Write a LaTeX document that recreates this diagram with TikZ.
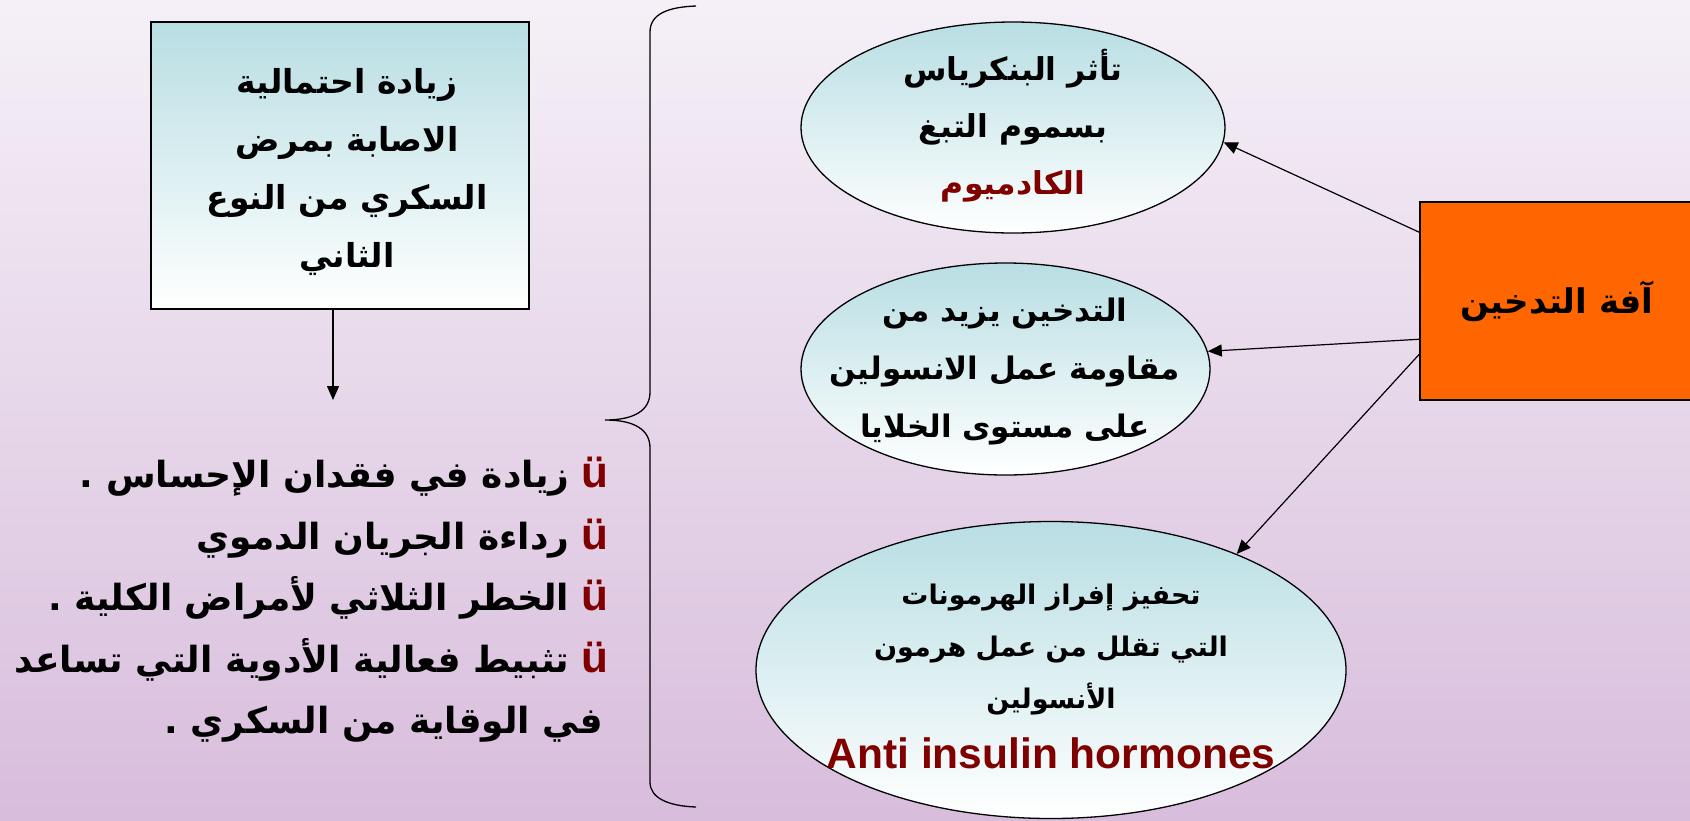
\documentclass[tikz,border=0pt]{standalone}
\usepackage{fontspec}
\setmainfont{Liberation Sans}
\newfontfamily\ar[Script=Arabic]{DejaVu Sans}
\TeXXeTstate=1
\usetikzlibrary{shapes.geometric,arrows.meta}
\definecolor{bgtop}{HTML}{F5F0F7}
\definecolor{bgbot}{HTML}{D8BDDC}
\definecolor{tealtop}{HTML}{B8DEE3}
\definecolor{dred}{HTML}{800000}
\definecolor{orng}{HTML}{FF6600}
\newcommand{\bul}{\textcolor{dred}{\normalfont\bfseries\fontsize{44}{61.5}\selectfont ü}}
\tikzset{
  bubble/.style={ellipse, draw=black, line width=1.3pt, top color=tealtop, bottom color=white, inner sep=0pt},
  tbox/.style={rectangle, draw=black, line width=1.5pt, top color=tealtop, bottom color=white, inner sep=0pt},
  artext/.style={align=center, inner sep=0pt, text=black},
  conn/.style={line width=1.2pt, -{Triangle[length=14pt,width=12pt]}},
}
\begin{document}
\begin{tikzpicture}[x=1pt,y=-1pt]
\useasboundingbox (0,0) rectangle (1690,820);
\fill[top color=bgtop, bottom color=bgbot] (0,0) rectangle (1690,820);

% left box
\node[tbox, minimum width=378pt, minimum height=287pt] (lb) at (340,165.5) {};
\node[artext, font=\ar\bfseries\fontsize{33}{58}\selectfont] (lbt) at (347,172)
  {\beginR زيادة احتمالية\endR\\\beginR الاصابة بمرض\endR\\\beginR السكري من النوع\endR\\\beginR الثاني\endR};
\coordinate (lbend) at (333,400);
\draw[conn] ([xshift=-7pt]lb.south) -- (lbend);

% bullet list
\node[anchor=east, align=right, inner sep=0pt, font=\ar\bfseries\fontsize{36}{61.5}\selectfont] (list) at (609,600)
  {\beginR زيادة في فقدان الإحساس .\endR\ \bul\\
   \beginR رداءة الجريان الدموي\endR\ \bul\\
   \beginR الخطر الثلاثي لأمراض الكلية .\endR\ \bul\\
   \beginR تثبيط فعالية الأدوية التي تساعد\endR\ \bul\\
   \beginR في الوقاية من السكري .\endR\hspace*{6pt}};

% brace
\coordinate (bt) at (696,6);
\coordinate (bm) at (605,420);
\coordinate (bb) at (696,807);
\draw[line width=1.3pt] (bt) .. controls (668,7) and (650,14) .. (650,32) -- (650,392)
  .. controls (650,410) and (635,420) .. (bm)
  .. controls (635,420) and (650,430) .. (650,448) -- (650,782)
  .. controls (650,798) and (668,806) .. (bb);

% ellipses
\node[bubble, minimum width=424pt, minimum height=211pt] (e1) at (1013,127.5) {};
\node[artext, font=\ar\bfseries\fontsize{31.5}{57}\selectfont] (e1t) at (1013,126)
  {\beginR تأثر البنكرياس\endR\\\beginR بسموم التبغ\endR\\\textcolor{dred}{\beginR الكادميوم\endR}};

\node[bubble, minimum width=409pt, minimum height=212pt] (e2) at (1005.5,369) {};
\node[artext, font=\ar\bfseries\fontsize{31}{58}\selectfont] (e2t) at (1005,371)
  {\beginR التدخين يزيد من\endR\\\beginR مقاومة عمل الانسولين\endR\\\beginR على مستوى الخلايا\endR};

\node[bubble, minimum width=590pt, minimum height=297pt] (e3) at (1051,670) {};
\node[artext, font=\ar\bfseries\fontsize{27}{52}\selectfont] (e3t) at (1051,650)
  {\beginR تحفيز إفراز الهرمونات\endR\\\beginR التي تقلل من عمل هرمون\endR\\\beginR الأنسولين\endR};
\node[artext, font=\normalfont\bfseries\fontsize{42.5}{46}\selectfont, text=dred] (e3e) at (1051,753)
  {Anti insulin hormones};

% orange box
\node[rectangle, draw=black, line width=1.5pt, fill=orng, minimum width=274pt, minimum height=198pt,
  font=\ar\bfseries\fontsize{34}{40}\selectfont] (ob) at (1557,301) {\beginR آفة التدخين\endR};

% connectors
\draw[conn] ([yshift=-31pt]ob.north west) -- (e1.-4);
\draw[conn] ([yshift=-138pt]ob.north west) -- (e2.5);
\draw[conn] ([yshift=-153pt]ob.north west) -- (e3.32);
\end{tikzpicture}
\end{document}
